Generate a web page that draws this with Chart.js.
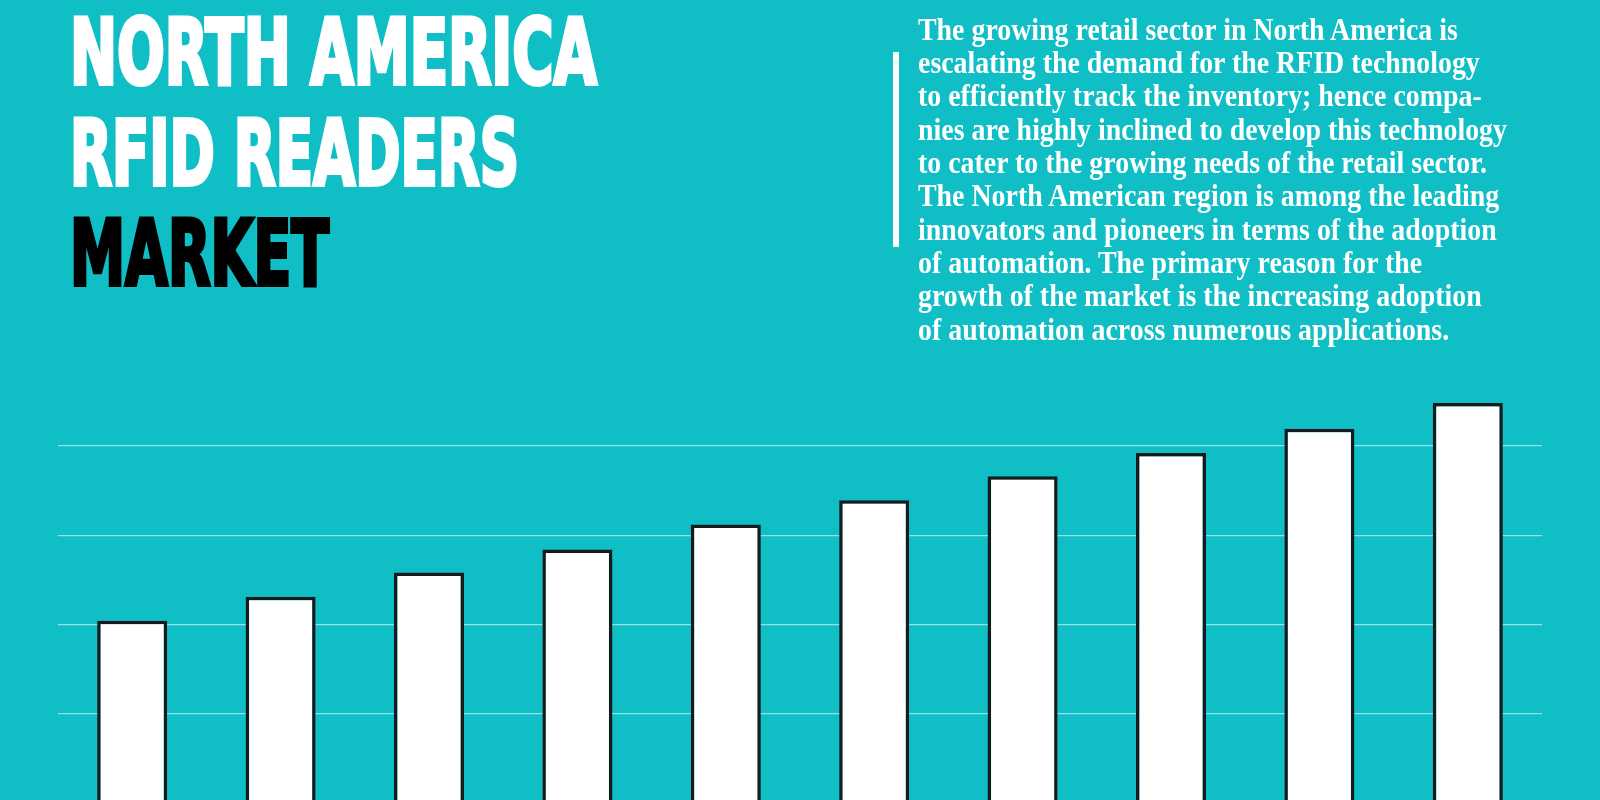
<!DOCTYPE html>
<html>
<head>
<meta charset="utf-8">
<title>North America RFID Readers Market</title>
<script src="https://cdn.jsdelivr.net/npm/chart.js@4.4.1/dist/chart.umd.min.js"></script>
<style>
  html, body {
    margin: 0;
    padding: 0;
    width: 1600px;
    height: 800px;
    overflow: hidden;
    background: #10bec6;
  }
  #chart {
    position: absolute;
    left: 0;
    top: 0;
    display: block;
  }
  #title {
    position: absolute;
    left: 70px;
    top: 3px;
    font-family: "DejaVu Sans", sans-serif;
    font-weight: bold;
    font-stretch: condensed;
    font-size: 90px;
    line-height: 100.5px;
    z-index: 2;
  }
  #title .line, #note .line {
    display: block;
    width: max-content;
    white-space: nowrap;
    transform-origin: 0 0;
  }
  #title .line {
    -webkit-text-stroke: 4px currentColor;
  }
  #note-bar {
    position: absolute;
    left: 893px;
    top: 52px;
    width: 6px;
    height: 195px;
    background: #fff;
    z-index: 2;
  }
  #note {
    position: absolute;
    left: 918px;
    top: 12.9px;
    font-family: "Liberation Serif", "DejaVu Serif", serif;
    font-weight: bold;
    font-size: 31px;
    line-height: 33.3px;
    color: #fff;
    z-index: 2;
  }
</style>
</head>
<body>
<div id="title"></div>
<div id="note-bar"></div>
<div id="note"></div>
<canvas id="chart" width="1600" height="900"></canvas>

<script>
// Dados do gráfico
const years = ['2019', '2020', '2021', '2022', '2023', '2024', '2025', '2026', '2027', '2028'];
const marketSize = [3.04, 3.31, 3.58, 3.84, 4.12, 4.39, 4.66, 4.92, 5.19, 5.48];
const gridValues = [1, 2, 3, 4, 5];

// Textos
const titleLines = ['NORTH AMERICA', 'RFID READERS', 'MARKET'];
const noteLines = [
  'The growing retail sector in North America is',
  'escalating the demand for the RFID technology',
  'to efficiently track the inventory; hence compa-',
  'nies are highly inclined to develop this technology',
  'to cater to the growing needs of the retail sector.',
  'The North American region is among the leading',
  'innovators and pioneers in terms of the adoption',
  'of automation. The primary reason for the',
  'growth of the market is the increasing adoption',
  'of automation across numerous applications.'
];

// Larguras-alvo do título (px) e da linha mais longa do texto
const titleWidths = [527, 449, 259];
const noteWidest = 589;

const titleEl = document.getElementById('title');
const noteEl = document.getElementById('note');

titleLines.forEach((text, i) => {
  const span = document.createElement('span');
  span.className = 'line';
  span.textContent = text;
  span.style.color = i < 2 ? '#ffffff' : '#000000';
  titleEl.appendChild(span);
});

noteLines.forEach(text => {
  const span = document.createElement('span');
  span.className = 'line';
  span.textContent = text;
  noteEl.appendChild(span);
});

// Ajusta a largura do texto para ficar como a fonte condensada original
function ajustarTextos() {
  titleEl.querySelectorAll('.line').forEach((el, i) => {
    const w = el.getBoundingClientRect().width;
    el.style.transform = `scaleX(${titleWidths[i] / w})`;
  });

  const noteSpans = noteEl.querySelectorAll('.line');
  let maxW = 0;
  noteSpans.forEach(el => { maxW = Math.max(maxW, el.getBoundingClientRect().width); });
  noteSpans.forEach(el => { el.style.transform = `scaleX(${noteWidest / maxW})`; });
}

// Gráfico de barras
const ctx = document.getElementById('chart').getContext('2d');
const chart = new Chart(ctx, {
  type: 'bar',
  data: {
    labels: years,
    datasets: [{
      label: 'RFID Readers Market',
      data: marketSize,
      backgroundColor: '#ffffff',
      borderColor: '#151b1c',
      borderWidth: 3.5,
      borderSkipped: 'start',
      barPercentage: 0.472,
      categoryPercentage: 1
    }]
  },
  options: {
    responsive: false,
    animation: false,
    layout: {
      padding: { left: 58, right: 58, top: 356.5, bottom: 7.7 }
    },
    plugins: {
      legend: { display: false },
      tooltip: { enabled: false }
    },
    scales: {
      x: { display: false },
      y: {
        min: 0,
        max: 6,
        ticks: { display: false },
        border: { display: false },
        grid: {
          color: 'rgba(255, 255, 255, 0.55)',
          lineWidth: 1.2,
          drawTicks: false
        },
        afterBuildTicks: axis => {
          axis.ticks = gridValues.map(v => ({ value: v }));
        }
      }
    }
  }
});

if (document.fonts && document.fonts.ready) {
  document.fonts.ready.then(ajustarTextos);
} else {
  ajustarTextos();
}
</script>
</body>
</html>
